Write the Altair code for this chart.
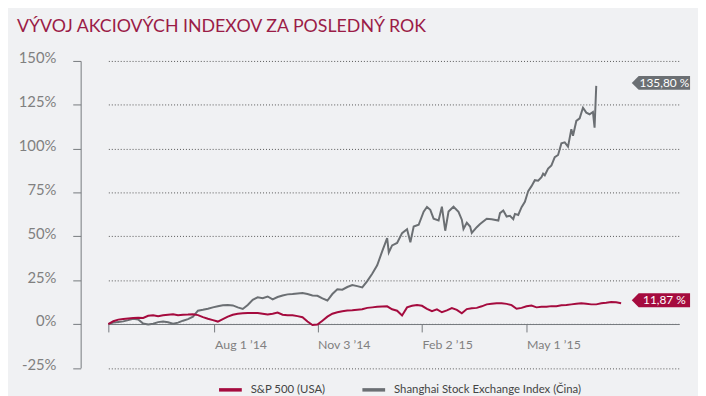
import altair as alt
import pandas as pd

TITLE = "VÝVOJ AKCIOVÝCH INDEXOV ZA POSLEDNÝ ROK"
SERIES = ["S&P 500 (USA)", "Shanghai Stock Exchange Index (Čina)"]
COLORS = ["#a50b3e", "#6b6f73"]

tick_days = [0, 64, 126, 189, 252]
tick_labels = ["", "Aug 1 \u201914", "Nov 3 \u201914", "Feb 2 \u201915", "May 1 \u201915"]
y_ticks = [-25, 0, 25, 50, 75, 100, 125, 150]

# Shanghai Stock Exchange Index: trading-day index and % change
gray_day = [0, 3, 6, 9, 12, 15, 18, 21, 24, 27, 30, 33, 36, 39, 42, 45, 48, 51, 54, 57,
            60, 63, 66, 69, 72, 75, 78, 81, 84, 87, 90, 93, 96, 99, 102, 105, 108, 111,
            114, 117, 120, 123, 126, 129, 132, 135, 138, 141, 144, 147, 150, 153, 156,
            159, 162, 165, 168, 169, 171, 174, 177, 180, 182, 184, 187, 190, 192, 194,
            196, 199, 201, 203, 205, 208, 211, 213, 214, 216, 218, 219, 222, 224, 228,
            231, 235, 236, 238, 240, 242, 244, 245, 247, 249, 251, 253, 255, 257, 259,
            261, 262, 263, 265, 267, 269, 271, 273, 275, 277, 279, 280, 282, 284, 286,
            288, 290, 292, 293, 294]
gray_pct = [0.0, 0.8, 1.2, 1.5, 2.2, 3.0, 2.6, 0.3, -0.2, 0.2, 1.1, 1.4, 1.0, 0.2, 0.8,
            1.9, 2.8, 4.2, 7.6, 8.1, 8.7, 9.5, 10.1, 10.7, 10.9, 10.6, 9.5, 8.6, 10.9,
            13.8, 15.2, 14.7, 15.7, 14.0, 15.4, 16.3, 16.9, 17.1, 17.4, 17.7, 17.1, 16.3,
            16.1, 14.6, 13.4, 17.1, 19.8, 19.6, 21.1, 22.2, 21.6, 20.9, 24.5, 28.7, 33.5,
            41.4, 49.0, 40.8, 44.8, 46.2, 51.8, 54.1, 46.6, 55.6, 56.6, 64.1, 66.7, 65.1,
            60.1, 59.1, 66.9, 53.2, 64.1, 66.9, 64.0, 59.5, 54.2, 57.7, 55.6, 51.9, 55.2,
            57.0, 60.0, 59.7, 59.0, 63.2, 64.7, 61.3, 61.7, 59.8, 62.8, 62.2, 66.6, 69.7,
            75.8, 78.6, 82.0, 81.7, 83.7, 85.7, 84.8, 88.6, 90.4, 95.1, 96.4, 103.0,
            103.6, 101.1, 111.1, 107.3, 115.8, 117.3, 123.3, 120.5, 119.6, 120.9, 112.0,
            135.8]

# S&P 500: % change every third trading day
red_pct = [0.0, 1.6, 2.5, 2.9, 3.2, 3.4, 3.6, 3.5, 4.7, 5.0, 4.5, 5.0, 5.3, 5.6, 5.0,
           5.3, 5.4, 5.6, 5.1, 3.9, 3.0, 2.2, 1.4, 2.8, 4.2, 5.3, 5.9, 6.1, 6.3, 6.3,
           6.3, 5.9, 5.4, 5.9, 6.5, 5.3, 5.0, 5.0, 4.5, 3.9, 1.4, -0.6, -0.3, 1.9, 4.2,
           5.9, 6.7, 7.3, 7.7, 7.8, 8.1, 8.4, 9.2, 9.5, 9.8, 10.0, 10.1, 8.4, 7.6, 4.9,
           9.5, 10.4, 10.8, 10.4, 8.7, 7.3, 8.4, 6.7, 7.8, 9.1, 8.1, 6.1, 8.5, 9.0, 9.2,
           10.1, 11.2, 11.5, 11.8, 11.8, 11.5, 10.8, 8.7, 9.2, 10.1, 10.5, 9.5, 9.8, 9.8,
           10.2, 10.2, 10.7, 10.9, 11.2, 11.5, 11.8, 11.5, 11.2, 11.2, 11.8, 12.1, 12.5,
           12.4, 11.87]
red_day = list(range(0, 3 * len(red_pct), 3))

df_red = pd.DataFrame({"day": red_day, "pct": red_pct, "series": SERIES[0]})
df_gray = pd.DataFrame({"day": gray_day, "pct": gray_pct, "series": SERIES[1]})


def fmt(v):
    return f"{v:.2f}".replace(".", ",") + " %"


tags_df = pd.DataFrame({
    "series": SERIES,
    "pct": [red_pct[-1], gray_pct[-1]],
    "text": [fmt(red_pct[-1]), fmt(gray_pct[-1])],
})

W, H = 577.5, 310.5
FONT = "Lato"
AXIS_COLOR = "#75797d"

label_expr = "".join(
    f"datum.value == {d} ? '{l}' : " for d, l in zip(tick_days, tick_labels)
) + "''"

x_enc = alt.X(
    "day:Q",
    scale=alt.Scale(domain=[0, 344], nice=False, zero=False),
    axis=alt.Axis(
        values=tick_days, labelExpr=label_expr, title=None, grid=False,
        offset=-H * 25 / 175, tickSize=8, domainColor=AXIS_COLOR, tickColor=AXIS_COLOR,
        labelColor="#808080", labelFont=FONT, labelFontSize=12.5, labelAlign="left",
        labelPadding=7, labelFlush=False, labelOverlap=False,
    ),
)
y_enc = alt.Y(
    "pct:Q",
    scale=alt.Scale(domain=[-25, 150], nice=False, zero=False),
    axis=alt.Axis(
        values=y_ticks, labelExpr="datum.value + '%'", title=None, offset=28,
        tickSize=8, grid=True, gridDash=[1, 2], gridColor="#555555", gridWidth=1,
        domainColor=AXIS_COLOR, tickColor=AXIS_COLOR, labelColor="#808080",
        labelFont=FONT, labelFontSize=15, labelPadding=17, labelOffset=-3,
    ),
)
color_enc = alt.Color(
    "series:N",
    scale=alt.Scale(domain=SERIES, range=COLORS),
    legend=alt.Legend(
        title=None, orient="none", legendX=110, legendY=319, direction="horizontal",
        symbolType="stroke", symbolSize=529, symbolStrokeWidth=3.5,
        labelFont=FONT, labelFontSize=11.5, labelColor="#444444", labelOffset=7,
        labelLimit=0, columnPadding=30, padding=0,
    ),
)

gray_line = alt.Chart(df_gray).mark_line(strokeWidth=2).encode(x=x_enc, y=y_enc, color=color_enc)
red_line = alt.Chart(df_red).mark_line(strokeWidth=2).encode(x=x_enc, y=y_enc, color=color_enc)

TAG = "M-1,0 L-0.763,-0.237 L1,-0.237 L1,0.237 L-0.763,0.237 Z"
tags = alt.Chart(tags_df).mark_point(
    shape=TAG, size=3481, filled=True, opacity=1, yOffset=-3
).encode(
    x=alt.value(559),
    y=y_enc,
    color=alt.Color("series:N", scale=alt.Scale(domain=SERIES, range=COLORS), legend=None),
)
tag_text = alt.Chart(tags_df).mark_text(
    color="white", font=FONT, fontSize=12, align="center", baseline="middle", yOffset=-3
).encode(x=alt.value(562.5), y=y_enc, text="text:N")

chart = alt.layer(gray_line, red_line, tags, tag_text).properties(
    width=W,
    height=H,
    autosize=alt.AutoSizeParams(type="none"),
    padding={"left": 101.5, "top": 51.3, "right": 19, "bottom": 26.2},
    background="#f0f1f3",
    title=alt.TitleParams(
        TITLE, anchor="start", frame="group", dx=-92.5, offset=15,
        font=FONT, fontSize=18, fontWeight="normal", color="#9b1c47",
    ),
).configure_view(stroke=None)

chart.save("out.html", embed_options={"renderer": "svg", "actions": False})
